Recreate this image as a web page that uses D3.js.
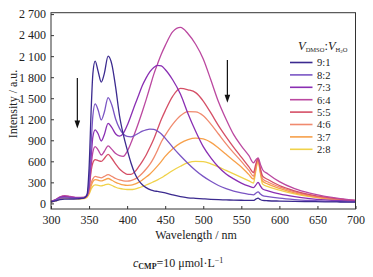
<!DOCTYPE html>
<html><head><meta charset="utf-8">
<script src="https://cdn.jsdelivr.net/npm/d3@7"></script>
<style>
body{margin:0;background:#fff;}
svg{display:block;}
svg text{font-family:"Liberation Serif","Times New Roman","DejaVu Serif",serif !important;}
</style></head>
<body><svg id="c" width="373" height="277"></svg>
<script>
const wavelengths=[300,306,312,318,325,335,343,347,350,353,355,358,362,366,370,375,380,385,390,395,400,405,410,415,420,425,430,435,440,445,450,460,470,480,490,500,510,520,530,540,550,560,566,569,572,575,578,585,600,620,640,660,680,700];
const ratios=["9:1","8:2","7:3","6:4","5:5","4:6","3:7","2:8"];
const colors=["#3b2a8f","#7a55c4","#8a2fb3","#bb48a0","#d54f66","#f08a6e","#f7a04a","#f0d24a"];
const s91=[20,35,55,60,60,65,75,110,500,1400,1850,2030,1880,1730,1850,2100,1980,1650,1250,980,770,580,430,330,265,225,195,180,170,160,150,120,95,80,72,65,58,53,50,47,45,42,42,60,75,55,42,38,33,28,25,22,20,18];
const s82=[25,45,75,80,75,72,78,110,300,900,1250,1420,1330,1190,1300,1510,1400,1200,1070,990,955,950,970,1000,1030,1050,1060,1055,1030,990,930,800,680,570,470,385,315,255,210,175,150,130,122,145,165,135,112,98,75,55,42,33,27,22];
const s73=[25,50,85,95,85,78,80,110,260,700,950,1050,990,890,980,1140,1080,990,960,1000,1110,1250,1400,1540,1680,1790,1880,1940,1970,1960,1910,1760,1560,1280,1030,810,650,520,420,350,290,245,225,260,300,250,205,180,135,95,68,50,38,30];
const s64=[30,55,95,110,100,85,85,110,230,560,730,810,760,690,740,820,770,710,680,672,740,860,1000,1150,1310,1480,1660,1840,1990,2130,2250,2450,2510,2420,2270,2060,1760,1450,1200,980,820,680,580,620,650,560,480,420,310,210,145,100,68,45];
const s55=[28,50,90,105,95,82,85,110,210,480,580,625,610,600,640,700,640,560,490,445,415,415,450,520,600,690,800,920,1060,1200,1320,1530,1640,1620,1580,1460,1290,1110,950,800,660,520,440,560,640,500,390,340,255,180,125,88,60,40];
const s46=[25,45,80,95,85,75,78,100,170,300,350,385,375,365,385,410,385,355,335,322,318,325,345,380,430,490,560,650,760,880,970,1130,1250,1310,1305,1250,1130,990,850,720,600,470,390,520,630,480,350,305,235,165,115,80,55,38];
const s37=[22,40,70,85,78,70,73,95,150,260,310,340,330,320,335,355,330,300,280,265,258,260,275,300,335,375,420,475,535,600,670,780,860,910,930,920,870,790,700,610,520,410,345,490,625,450,315,275,215,150,105,72,50,35];
const s28=[20,35,60,75,70,65,68,85,130,210,245,265,258,250,262,275,255,230,213,203,198,198,205,220,240,262,285,310,335,365,400,470,530,580,600,595,565,520,470,420,370,320,290,460,615,430,275,240,190,135,95,66,47,33];
const series=[s91,s82,s73,s64,s55,s46,s37,s28];
const xTicks=[300,350,400,450,500,550,600,650,700];
const yTicks=[0,300,600,900,1200,1500,1800,2100,2400,2700];

const svg=d3.select("#c");
const L=51,R=355.5,T=12.7,B=209;
const x=d3.scaleLinear().domain([300,700]).range([L,R]);
const y=d3.scaleLinear().domain([-80,2720]).range([B,T]);
const fmt=d=>d>=1000?Math.floor(d/1000)+" "+String(d%1000).padStart(3,"0"):String(d);

// curves
const line=d3.line().x((d,i)=>x(wavelengths[i])).y(d=>y(d)).curve(d3.curveMonotoneX);
const g=svg.append("g");
for(let k=series.length-1;k>=0;k--){
  g.append("path").attr("d",line(series[k])).attr("fill","none").attr("stroke",colors[k]).attr("stroke-width",1.3);
}

// axes
const yAxis=d3.axisLeft(y).tickValues(yTicks).tickSize(-3).tickPadding(5).tickFormat(fmt);
const xAxis=d3.axisBottom(x).tickValues(xTicks).tickSize(-3).tickPadding(6);
const ya=svg.append("g").attr("transform",`translate(${L},0)`).call(yAxis);
const xa=svg.append("g").attr("transform",`translate(0,${B})`).call(xAxis);
[ya,xa].forEach(a=>{a.attr("font-family",null);a.select(".domain").remove();a.selectAll("text").attr("font-size",12).attr("fill","#222");a.selectAll("line").attr("stroke","#333");});
svg.append("rect").attr("x",L).attr("y",T).attr("width",R-L).attr("height",B-T).attr("fill","none").attr("stroke","#333").attr("stroke-width",1);

// labels
svg.append("text").attr("x",196).attr("y",239).attr("text-anchor","middle").attr("font-size",12).attr("fill","#222").text("Wavelength / nm");
svg.append("text").attr("transform","translate(17,104) rotate(-90)").attr("text-anchor","middle").attr("font-size",12).attr("fill","#222").text("Intensity / a.u.");
const ann=svg.append("text").attr("x",133).attr("y",267).attr("font-size",12).attr("fill","#222");
ann.append("tspan").attr("font-style","italic").text("c");
ann.append("tspan").attr("font-size",8).attr("font-weight","bold").attr("dy",2).text("CMP");
ann.append("tspan").attr("dy",-2).text("=10 \u03bcmol\u00b7L");
ann.append("tspan").attr("font-size",8).attr("dy",-4).text("\u22121");

// arrows
const arrows=[[334.6,1790,1070],[531.7,2045,1436]];
arrows.forEach(([wl,v0,v1])=>{
  const ax=x(wl),y0=y(v0),y1=y(v1);
  svg.append("line").attr("x1",ax).attr("x2",ax).attr("y1",y0).attr("y2",y1-7).attr("stroke","#111").attr("stroke-width",1.2);
  svg.append("path").attr("d",`M${ax-2.8},${y1-8}L${ax+2.8},${y1-8}L${ax},${y1}Z`).attr("fill","#111");
});

// legend
const hd=svg.append("text").attr("x",298).attr("y",50).attr("font-size",12.5).attr("fill","#222");
hd.append("tspan").attr("font-style","italic").text("V");
hd.append("tspan").attr("font-size",6.5).attr("dy",2).text("DMSO");
hd.append("tspan").attr("dy",-2).text(":");
hd.append("tspan").attr("font-style","italic").text("V");
hd.append("tspan").attr("font-size",6.5).attr("dy",2).text("H");
hd.append("tspan").attr("font-size",5).attr("dy",1).text("2");
hd.append("tspan").attr("font-size",6.5).attr("dy",-1).text("O");
ratios.forEach((r,i)=>{
  const yy=62.5+i*12.4;
  svg.append("line").attr("x1",290).attr("x2",312.5).attr("y1",yy).attr("y2",yy).attr("stroke",colors[i]).attr("stroke-width",1.6);
  svg.append("text").attr("x",317).attr("y",yy+3.8).attr("font-size",10.6).attr("fill","#222").text(r);
});
</script></body></html>
